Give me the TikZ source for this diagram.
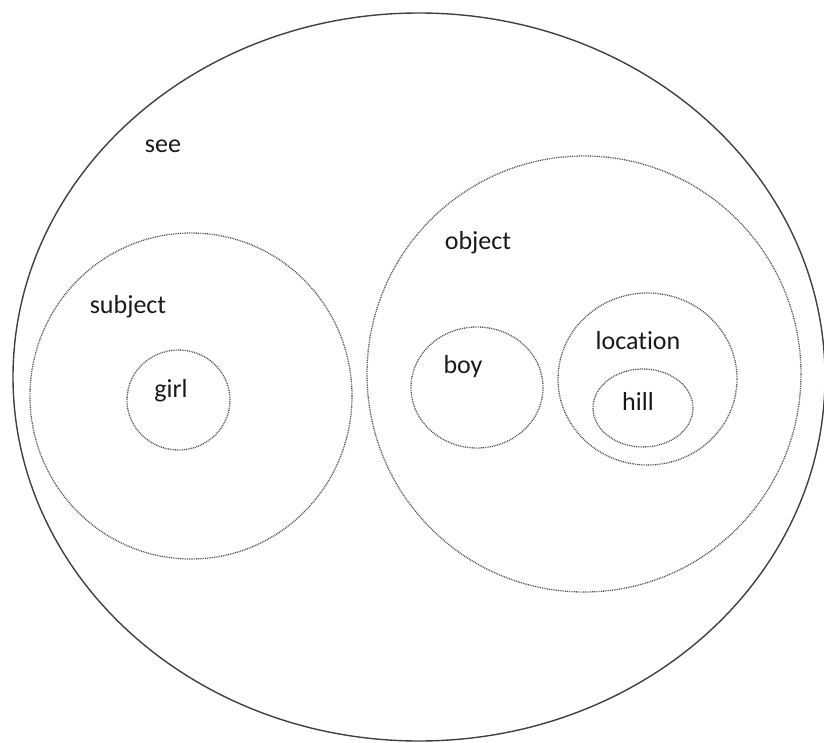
\documentclass[tikz,border=0pt]{standalone}
\usepackage{fontspec}
\setmainfont[Ligatures=NoCommon]{Carlito}
\usetikzlibrary{shapes.geometric}
\begin{document}
\begin{tikzpicture}[x=1pt,y=-1pt,
  solidset/.style={ellipse,draw=black!75,line width=1.4pt,inner sep=0pt},
  dotset/.style={ellipse,draw=black!70,line width=1.3pt,dash pattern=on 0.9pt off 0.9pt,inner sep=0pt},
  lbl/.style={font=\fontsize{26}{30}\selectfont,text=black!90,inner sep=0pt}]
\useasboundingbox (0,0) rectangle (824,743);
\node[solidset,minimum width=812pt,minimum height=728pt] (see) at (419,377) {};
\node[dotset,minimum width=322pt,minimum height=326pt] (subject) at (191,396) {};
\node[dotset,minimum width=103pt,minimum height=100pt] (girl) at (178.5,400) {};
\node[dotset,minimum width=434pt,minimum height=436pt] (object) at (584,374) {};
\node[dotset,minimum width=132pt,minimum height=121pt] (boy) at (477,387.5) {};
\node[dotset,minimum width=179pt,minimum height=172pt] (location) at (647.5,379) {};
\node[dotset,minimum width=100pt,minimum height=78pt] (hill) at (643,408) {};
\node[lbl] (tsee) at (163,146) {see};
\node[lbl] (tsubject) at (128,307) {subject};
\node[lbl] (tgirl) at (171,391) {girl};
\node[lbl] (tobject) at (478,243) {object};
\node[lbl] (tboy) at (463,367) {boy};
\node[lbl] (tlocation) at (638,341) {location};
\node[lbl] (thill) at (638,401) {hill};
\end{tikzpicture}
\end{document}
